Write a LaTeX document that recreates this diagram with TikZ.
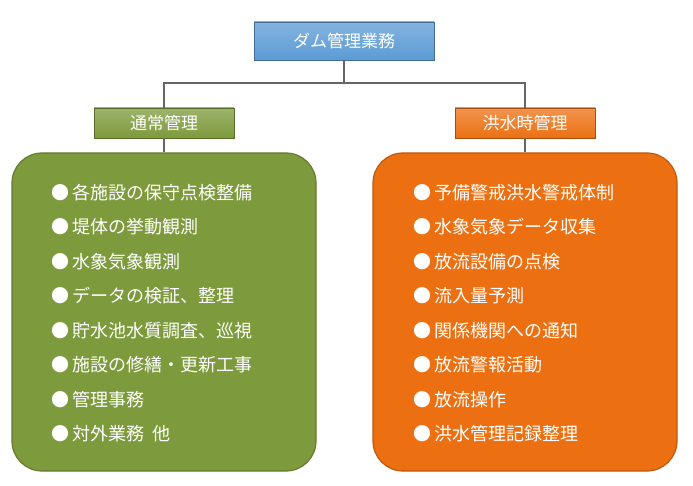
\documentclass[tikz,border=0pt]{standalone}
\usepackage{fontspec}
\setmainfont{Noto Sans CJK JP}
\usetikzlibrary{positioning}
\definecolor{topblue}{HTML}{5B9BD5}
\definecolor{grn}{HTML}{7D9A3C}
\definecolor{org}{HTML}{EC7012}
\tikzset{
  head/.style={draw=#1!70!black, top color=#1!75!white, bottom color=#1, text=white,
    minimum width=140pt, minimum height=30pt, font=\fontsize{17}{19}\selectfont},
  panel/.style={draw=#1!80!black, line width=1.2pt, fill=#1, rounded corners=30pt,
    minimum width=304pt, minimum height=318pt},
  item/.style={text=white, anchor=west, font=\fontsize{18}{20}\selectfont},
  link/.style={draw=gray!80!black, line width=1.6pt}
}
\begin{document}
\begin{tikzpicture}[x=1pt,y=-1pt]
    \useasboundingbox (0,0) rectangle (693,486);
    \node[head=topblue, minimum width=180pt, minimum height=38pt] (top) at (344,41) {ダム管理業務};
    \node[head=grn] (normal) at (164,123) {通常管理};
    \node[head=org] (flood) at (525,123) {洪水時管理};
    \node[panel=grn] (lbox) at (164,312) {};
    \node[panel=org] (rbox) at (525,312) {};
    \coordinate (mid) at (344,83);
    \draw[link] (top.south) -- (mid) -| (normal.north);
    \draw[link] (mid) -| (flood.north);
    \draw[link] (normal.south) -- (lbox.north);
    \draw[link] (flood.south) -- (rbox.north);
    % items
    \foreach \t [count=\i] in {各施設の保守点検整備, 堤体の挙動観測, 水象気象観測, データの検証、整理,
        貯水池水質調査、巡視, 施設の修繕・更新工事, 管理事務, 対外業務\ \ 他}
      \node[item] (l\i) at (48,{158+34.5*\i}) {●\,\t};
    \foreach \t [count=\i] in {予備警戒洪水警戒体制, 水象気象データ収集, 放流設備の点検, 流入量予測,
        関係機関への通知, 放流警報活動, 放流操作, 洪水管理記録整理}
      \node[item] (r\i) at (410,{158+34.5*\i}) {●\,\t};
\end{tikzpicture}
\end{document}
